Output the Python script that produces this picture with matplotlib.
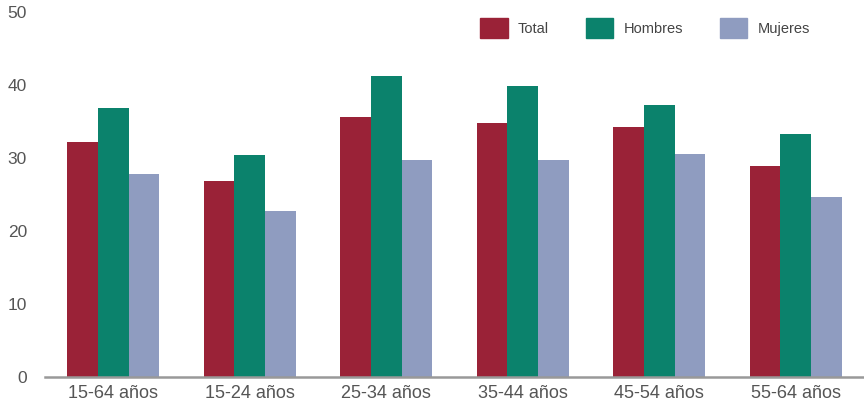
import numpy as np
import matplotlib
matplotlib.use("Agg")
import matplotlib.pyplot as plt
from matplotlib.patches import Patch

grupos = ["15-64 años", "15-24 años", "25-34 años", "35-44 años", "45-54 años", "55-64 años"]
total = [32.2, 26.8, 35.6, 34.8, 34.2, 28.9]
hombres = [36.9, 30.4, 41.3, 39.9, 37.3, 33.3]
mujeres = [27.8, 22.7, 29.7, 29.7, 30.6, 24.6]

plt.rcParams['font.family'] = ['Liberation Sans', 'DejaVu Sans']

c_total = '#9a2237'
c_hombres = '#0b826c'
c_mujeres = '#8f9cc0'
gris = '#555555'

fig = plt.figure(figsize=(8.64, 4.12), dpi=100)
ax = fig.add_axes([45 / 864, 35 / 412, 819 / 864, 365 / 412])

x = np.arange(len(grupos))
w = 0.225
ax.bar(x - w, total, w, color=c_total, label='Total')
ax.bar(x, hombres, w, color=c_hombres, label='Hombres')
ax.bar(x + w, mujeres, w, color=c_mujeres, label='Mujeres')

ax.set_xlim(-0.5, 5.5)
ax.set_ylim(0, 50)
ax.set_yticks([0, 10, 20, 30, 40, 50])
ax.set_xticks(x)
ax.set_xticklabels(grupos)
ax.tick_params(axis='x', length=0, labelsize=13, colors=gris, pad=6)
ax.tick_params(axis='y', length=0, labelsize=12.5, colors=gris, pad=13)

for s in ['top', 'right', 'left']:
    ax.spines[s].set_visible(False)
ax.spines['bottom'].set_color('#999999')
ax.spines['bottom'].set_linewidth(1.8)

handles = [Patch(color=c_total, label='Total'),
           Patch(color=c_hombres, label='Hombres'),
           Patch(color=c_mujeres, label='Mujeres')]
leg = fig.legend(handles=handles, ncol=3, loc='center', bbox_to_anchor=(645 / 864, 1 - 28 / 412),
                 frameon=False, fontsize=10.5, handlelength=1.9, handleheight=1.7,
                 columnspacing=2.5, handletextpad=0.7)
for t in leg.get_texts():
    t.set_color('#444444')

fig.savefig('out.png', dpi=100)
